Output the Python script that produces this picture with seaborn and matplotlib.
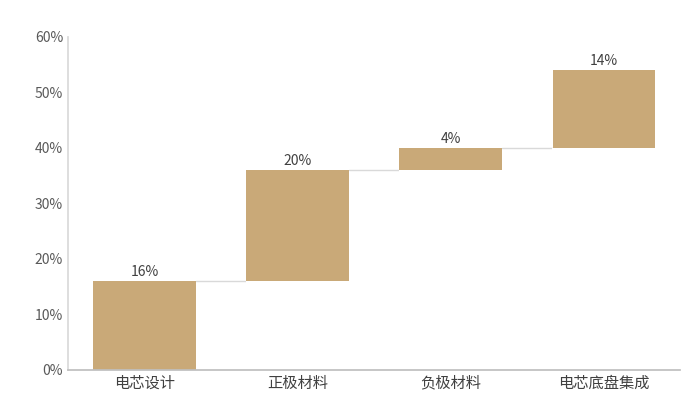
import matplotlib
matplotlib.use("Agg")
import matplotlib.pyplot as plt
import seaborn as sns
import numpy as np
import pandas as pd

categories = ["电芯设计", "正极材料", "负极材料", "电芯底盘集成"]
values = [16, 20, 4, 14]
labels = ["16%", "20%", "4%", "14%"]

sns.set_theme(style="white")
plt.rcParams['font.family'] = ['Noto Sans CJK SC', 'DejaVu Sans']

bottoms = np.concatenate([[0], np.cumsum(values)[:-1]])
df = pd.DataFrame({"cat": categories, "top": bottoms + np.array(values), "bottom": bottoms})

fig = plt.figure(figsize=(7, 4.18), dpi=100)
ax = fig.add_axes([0.097, 0.115, 0.875, 0.797])
color = "#C9A978"
w = 0.67
sns.barplot(data=df, x="cat", y="top", color=color, width=w, ax=ax, saturation=1, linewidth=0)
sns.barplot(data=df, x="cat", y="bottom", color="white", width=w + 0.01, ax=ax, saturation=1, linewidth=0)
for i in range(len(values)):
    top = bottoms[i] + values[i]
    ax.text(i, top + 0.3, labels[i], ha="center", va="bottom", fontsize=10, color="#404040")
    if i < len(values) - 1:
        ax.plot([i + w / 2, i + 1 - w / 2], [top, top], color="#d9d9d9", lw=1, zorder=0)

ax.set_ylim(0, 60)
ax.set_xlim(-0.5, 3.5)
ax.set_yticks(range(0, 61, 10))
ax.set_yticklabels([f"{v}%" for v in range(0, 61, 10)], fontsize=10, color="#595959")
ax.tick_params(axis="x", labelsize=11, colors="#404040", length=0)
ax.tick_params(axis="y", length=0)
ax.set_xlabel("")
ax.set_ylabel("")
for s in ["top", "right"]:
    ax.spines[s].set_visible(False)
ax.spines["left"].set_color("#d9d9d9")
ax.spines["bottom"].set_color("#bfbfbf")
fig.savefig("out.png", dpi=100, facecolor="white")
